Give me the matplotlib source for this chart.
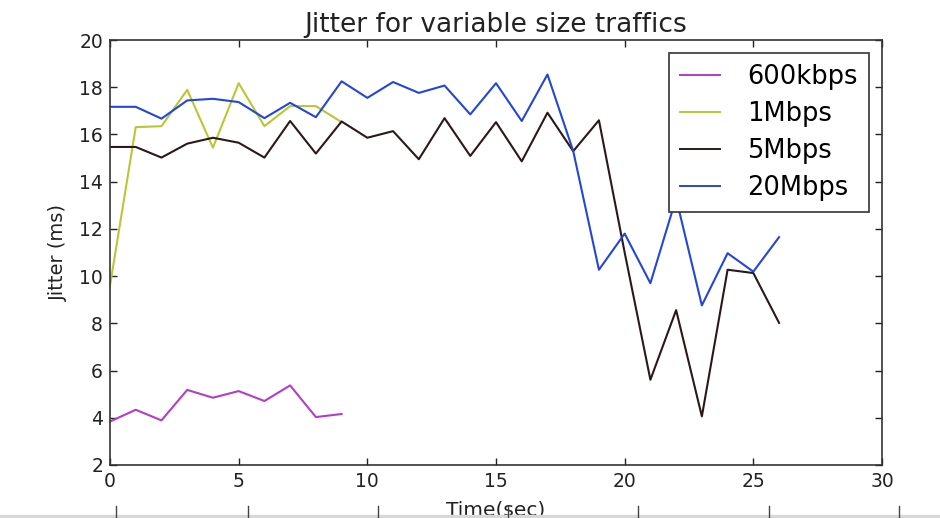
import matplotlib
matplotlib.use("Agg")
import matplotlib.pyplot as plt
from matplotlib.lines import Line2D

# ---- data ----
t_600k = [0, 1, 2, 3, 4, 5, 6, 7, 8, 9]
j_600k = [3.84, 4.34, 3.89, 5.18, 4.85, 5.13, 4.71, 5.37, 4.03, 4.16]

t_1m = [0, 1, 2, 3, 4, 5, 6, 7, 8, 9]
j_1m = [9.6, 16.31, 16.35, 17.89, 15.44, 18.17, 16.35, 17.2, 17.2, 16.52]

t_5m = list(range(27))
j_5m = [15.47, 15.47, 15.02, 15.61, 15.86, 15.65, 15.02, 16.57, 15.19, 16.55,
        15.86, 16.14, 14.95, 16.69, 15.09, 16.52, 14.86, 16.92, 15.29, 16.6,
        11.0, 5.61, 8.56, 4.06, 10.27, 10.13, 8.02]

t_20m = list(range(27))
j_20m = [17.17, 17.17, 16.67, 17.44, 17.51, 17.37, 16.69, 17.34, 16.73, 18.25,
         17.55, 18.22, 17.76, 18.07, 16.85, 18.17, 16.57, 18.54, 15.3, 10.27,
         11.8, 9.7, 13.3, 8.76, 10.97, 10.19, 11.65]

labels = ["600kbps", "1Mbps", "5Mbps", "20Mbps"]
colors = ["#b43cc8", "#b8c834", "#2c1818", "#2446d8"]

xticks = [0, 5, 10, 15, 20, 25, 30]
yticks = [2, 4, 6, 8, 10, 12, 14, 16, 18, 20]

fig = plt.figure(figsize=(9.4, 5.18), dpi=100)
ax = fig.add_axes([110/940, 53/518, 772/940, 425/518])

series = [(t_600k, j_600k), (t_1m, j_1m), (t_5m, j_5m), (t_20m, j_20m)]
for (t, j), c, lab in zip(series, colors, labels):
    ax.plot(t, j, color=c, lw=1.5, label=lab)

ax.set_xlim(0, 30)
ax.set_ylim(2, 20)
ax.set_xticks(xticks)
ax.set_yticks(yticks)
ax.tick_params(direction="in", top=True, right=True, length=5, width=1,
               labelsize=13.5, colors="#222222", pad=5)
for s in ax.spines.values():
    s.set_linewidth(1.2)
    s.set_color("#333333")

ax.set_title("Jitter for variable size traffics", fontsize=19, pad=6, color="#222222")
ax.set_ylabel("Jitter (ms)", fontsize=14, color="#222222", labelpad=8)
ax.set_xlabel("Time(sec)", fontsize=14.5, color="#222222", labelpad=7)

handles = [Line2D([], [], color=c, lw=1.4) for c in colors]
leg = ax.legend(handles, labels, loc="upper right", fontsize=18.5, frameon=True,
                fancybox=False, framealpha=1, handlelength=1.56,
                borderaxespad=0.5, labelspacing=0.42, handletextpad=1.04,
                borderpad=0.45)
leg.get_frame().set_edgecolor("#333333")
leg.get_frame().set_linewidth(1.2)

# bottom strip artifact (cropped axis of another figure)
fig.patches.append(plt.Rectangle((0, 0), 1, 3/518, transform=fig.transFigure,
                                 color="#d8d8d8", zorder=0))
for px in [116, 248, 378, 508, 638, 769, 899]:
    fig.lines.append(Line2D([px/940, px/940], [0, 12/518], transform=fig.transFigure,
                            color="#444444", lw=1))

fig.savefig("out.png", dpi=100)
